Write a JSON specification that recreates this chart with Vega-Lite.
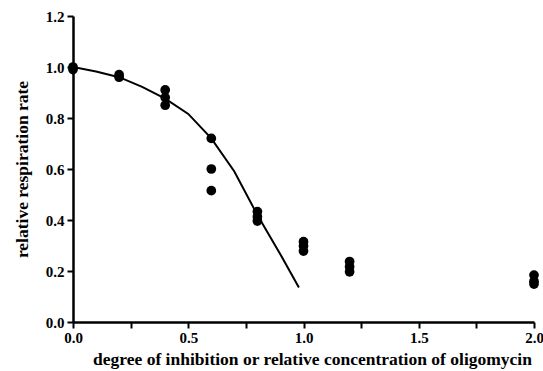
{
  "$schema": "https://vega.github.io/schema/vega-lite/v6.json",
  "width": 461,
  "height": 306,
  "autosize": {"type": "none"},
  "padding": {"left": 73, "top": 16, "right": 9, "bottom": 49},
  "background": "white",
  "config": {
    "view": {"stroke": null},
    "font": "Liberation Serif",
    "axis": {
      "grid": false,
      "domainColor": "black",
      "domainWidth": 2.5,
      "tickColor": "black",
      "tickWidth": 2,
      "tickSize": 6,
      "labelFont": "Liberation Serif",
      "labelFontWeight": "bold",
      "labelFontSize": 15,
      "labelColor": "black",
      "titleFont": "Liberation Serif",
      "titleFontWeight": "bold",
      "titleFontSize": 17.5,
      "titleColor": "black"
    }
  },
  "datasets": {
    "pts": [
      {"x": 0, "y": 1.0}, {"x": 0, "y": 0.99},
      {"x": 0.2, "y": 0.97}, {"x": 0.2, "y": 0.96},
      {"x": 0.4, "y": 0.91}, {"x": 0.4, "y": 0.88}, {"x": 0.4, "y": 0.85},
      {"x": 0.6, "y": 0.72}, {"x": 0.6, "y": 0.6}, {"x": 0.6, "y": 0.515},
      {"x": 0.8, "y": 0.433}, {"x": 0.8, "y": 0.413}, {"x": 0.8, "y": 0.396},
      {"x": 1.0, "y": 0.315}, {"x": 1.0, "y": 0.298}, {"x": 1.0, "y": 0.278},
      {"x": 1.2, "y": 0.237}, {"x": 1.2, "y": 0.217}, {"x": 1.2, "y": 0.197},
      {"x": 2.0, "y": 0.184}, {"x": 2.0, "y": 0.16}, {"x": 2.0, "y": 0.149}
    ],
    "fit": [
      {"x": 0, "y": 1.0}, {"x": 0.1, "y": 0.982}, {"x": 0.2, "y": 0.96},
      {"x": 0.3, "y": 0.922}, {"x": 0.4, "y": 0.876}, {"x": 0.5, "y": 0.816},
      {"x": 0.6, "y": 0.72}, {"x": 0.7, "y": 0.59}, {"x": 0.8, "y": 0.42},
      {"x": 0.9, "y": 0.265}, {"x": 0.98, "y": 0.135}
    ]
  },
  "layer": [
    {
      "data": {"name": "fit"},
      "mark": {"type": "line", "color": "black", "strokeWidth": 2, "clip": true},
      "encoding": {
        "x": {"field": "x", "type": "quantitative", "scale": {"domain": [0, 2], "nice": false, "zero": false},
          "axis": {"title": "degree of inhibition or relative concentration of oligomycin",
            "values": [0, 0.25, 0.5, 0.75, 1, 1.25, 1.5, 1.75, 2],
            "labelExpr": "(round(datum.value*2) == datum.value*2) ? format(datum.value, '.1f') : ''",
            "labelPadding": 2, "titlePadding": 5, "labelFlush": false, "titleX": 239}},
        "y": {"field": "y", "type": "quantitative", "scale": {"domain": [0, 1.2], "nice": false},
          "axis": {"title": "relative respiration rate",
            "values": [0, 0.1, 0.2, 0.3, 0.4, 0.5, 0.6, 0.7, 0.8, 0.9, 1.0, 1.1, 1.2],
            "labelExpr": "(abs(datum.value*5 - round(datum.value*5)) < 0.01) ? format(datum.value, '.1f') : ''",
            "labelPadding": 3, "titlePadding": 14, "labelFlush": false}}
      }
    },
    {
      "data": {"name": "pts"},
      "mark": {"type": "point", "filled": true, "color": "black", "opacity": 1, "size": 95, "clip": false},
      "encoding": {
        "x": {"field": "x", "type": "quantitative"},
        "y": {"field": "y", "type": "quantitative"}
      }
    }
  ]
}
